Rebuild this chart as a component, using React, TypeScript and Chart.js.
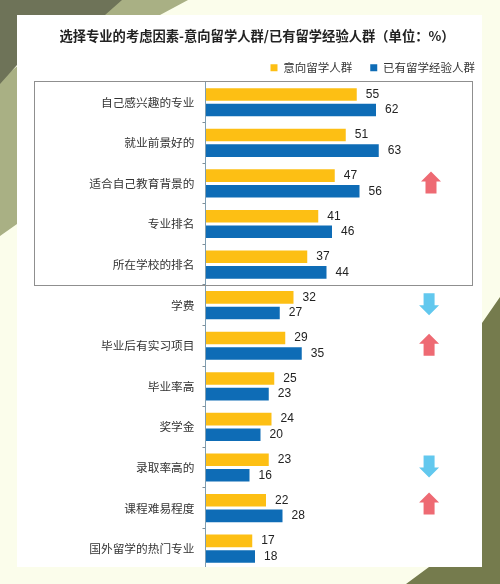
import React, { useEffect, useRef } from "react";
import { Chart, registerables } from "chart.js";

Chart.register(...registerables);

const categories = ["自己感兴趣的专业", "就业前景好的", "适合自己教育背景的", "专业排名", "所在学校的排名", "学费", "毕业后有实习项目", "毕业率高", "奖学金", "录取率高的", "课程难易程度", "国外留学的热门专业"];
const prospective = [55, 51, 47, 41, 37, 32, 29, 25, 24, 23, 22, 17];
const experienced = [62, 63, 56, 46, 44, 27, 35, 23, 20, 16, 28, 18];
const seriesNames = ["意向留学人群", "已有留学经验人群"];
const titleText = "选择专业的考虑因素-意向留学人群/已有留学经验人群（单位：%）";
const arrowRows = [2, 5, 6, 9, 10];
const arrowDirs = ["up", "down", "up", "down", "up"];
const arrowValues = [82, 81.3, 81.3, 81.3, 81.3];
const boxedRowCount = 5;

const CJK = '"Noto Sans CJK SC", sans-serif';

const decoration = {
  id: "decoration",
  afterLayout(chart: any) {
    const t = chart.titleBlock;
    t.left = 14;
    t.right = 500;
    t.top = 28;
    const l = chart.legend;
    l.top = 44;
    l.bottom = 82;
    l.right = 493;
  },
  beforeDraw(chart: any) {
    const c = chart.ctx;
    c.save();
    c.fillStyle = "#FBFDEB";
    c.fillRect(0, 0, 500, 584);
    c.fillStyle = "#A9B084";
    c.beginPath();
    c.moveTo(100, 0); c.lineTo(188, 0); c.lineTo(160, 15); c.lineTo(17, 15); c.lineTo(17, 224); c.lineTo(0, 236); c.lineTo(0, 80);
    c.closePath(); c.fill();
    c.fillStyle = "#6E7358";
    c.beginPath();
    c.moveTo(0, 0); c.lineTo(122, 0); c.lineTo(105, 15); c.lineTo(17, 15); c.lineTo(17, 65); c.lineTo(0, 84);
    c.closePath(); c.fill();
    c.fillStyle = "#757B4D";
    c.beginPath();
    c.moveTo(500, 297); c.lineTo(500, 584); c.lineTo(406, 584); c.lineTo(429, 567); c.lineTo(482, 567); c.lineTo(482, 323);
    c.closePath(); c.fill();
    c.fillStyle = "#FFFFFF";
    c.fillRect(17, 15, 465, 552);
    c.restore();
  },
  afterDatasetsDraw(chart: any) {
    const c = chart.ctx;
    const x = chart.scales.x;
    const y = chart.scales.y;
    c.save();
    c.strokeStyle = "#7F9DB0";
    c.lineWidth = 1;
    c.beginPath();
    c.moveTo(x.getPixelForValue(0), chart.chartArea.top);
    c.lineTo(x.getPixelForValue(0), 567);
    c.stroke();
    const boxBottom = Math.round((y.getPixelForValue(boxedRowCount - 1) + y.getPixelForValue(boxedRowCount)) / 2) + 0.5;
    c.strokeStyle = "#8F8F8F";
    c.strokeRect(34.5, 81.5, 438, boxBottom - 81.5);

    chart.data.datasets.forEach((ds: any, i: number) => {
      chart.getDatasetMeta(i).data.forEach((bar: any, j: number) => {
        c.fillStyle = "#222222";
        c.font = '12px "Liberation Sans", Arial, sans-serif';
        c.textAlign = "left";
        c.textBaseline = "middle";
        c.fillText(String(ds.data[j]), bar.x + 9, bar.y);
      });
    });

    arrowRows.forEach((row, i) => {
      const ax = x.getPixelForValue(arrowValues[i]);
      const ay = y.getPixelForValue(row) - (row === 10 ? 4.5 : 1);
      const s = arrowDirs[i] === "up" ? -1 : 1;
      c.fillStyle = s < 0 ? "#EE6A73" : "#62C8EE";
      c.beginPath();
      c.moveTo(ax, ay + s * 11);
      c.lineTo(ax + 10, ay + s * 1);
      c.lineTo(ax + 5.5, ay + s * 1);
      c.lineTo(ax + 5.5, ay - s * 11);
      c.lineTo(ax - 5.5, ay - s * 11);
      c.lineTo(ax - 5.5, ay + s * 1);
      c.lineTo(ax - 10, ay + s * 1);
      c.closePath();
      c.fill();
    });
    c.restore();
  },
};

export default function App() {
  const ref = useRef<HTMLCanvasElement>(null);
  useEffect(() => {
    document.body.style.margin = "0";
    const chart = new Chart(ref.current!, {
      type: "bar",
      data: {
        labels: categories,
        datasets: [
          { label: seriesNames[0], data: prospective, backgroundColor: "#FDBF14", barPercentage: 0.81, categoryPercentage: 0.768 },
          { label: seriesNames[1], data: experienced, backgroundColor: "#0E6CB6", barPercentage: 0.81, categoryPercentage: 0.768 },
        ],
      },
      plugins: [decoration],
      options: {
        indexAxis: "y",
        responsive: false,
        animation: false,
        layout: { padding: { top: 26.5, right: 25, bottom: 9.2, left: 0 } },
        plugins: {
          tooltip: { enabled: false },
          title: {
            display: true,
            text: titleText,
            color: "#222222",
            font: { family: CJK, size: 13.3, weight: "bold" },
            padding: { top: 0, bottom: 0 },
          },
          legend: {
            position: "top",
            align: "end",
            labels: {
              boxWidth: 7,
              boxHeight: 7,
              padding: 18,
              color: "#333333",
              font: { family: CJK, size: 11.5 },
            },
          },
        },
        scales: {
          x: { display: false, min: 0, max: 98, grid: { display: false } },
          y: {
            afterFit(scale: any) { scale.width = 205.5; },
            border: { display: false },
            grid: {
              drawOnChartArea: false,
              drawTicks: true,
              tickLength: 3,
              color: (ctx: any) => (ctx.index === undefined || ctx.index === 0 ? "transparent" : "#7F8F98"),
            },
            ticks: {
              autoSkip: false,
              padding: 8,
              color: "#333333",
              font: { family: CJK, size: 11.7 },
            },
          },
        },
      } as any,
    });
    return () => chart.destroy();
  }, []);
  return <canvas ref={ref} width={500} height={584} style={{ display: "block" }} />;
}
